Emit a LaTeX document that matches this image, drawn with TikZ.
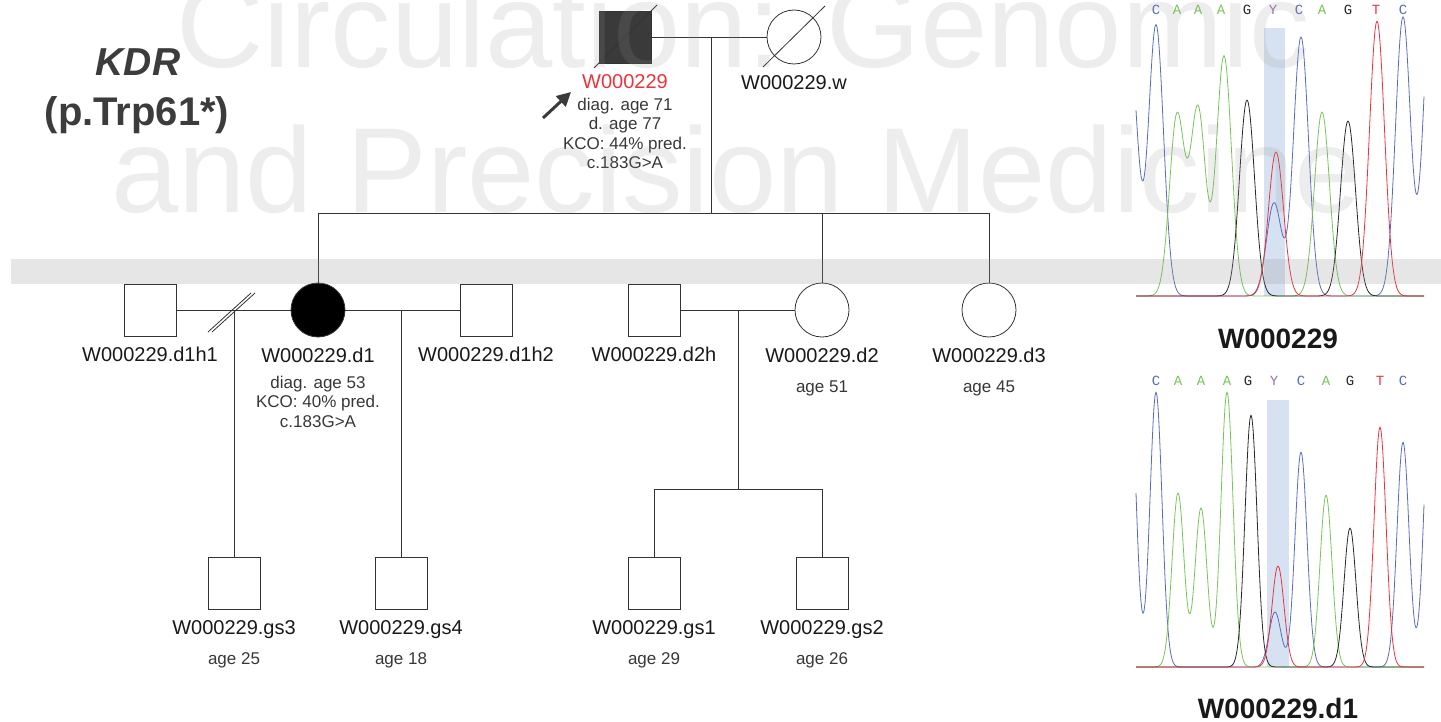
\documentclass[tikz,border=0pt]{standalone}
\usepackage{fontspec}
\setmainfont{Liberation Sans}
\newfontfamily\basefont{Liberation Mono}
\usetikzlibrary{arrows.meta,positioning}
\definecolor{linegray}{RGB}{51,51,51}
\definecolor{affgray}{RGB}{58,58,58}
\definecolor{probred}{RGB}{232,52,60}
\definecolor{headgray}{RGB}{60,60,60}
\definecolor{infogray}{RGB}{55,55,55}
\definecolor{trblue}{RGB}{88,108,190}
\definecolor{trgreen}{RGB}{120,195,90}
\definecolor{trblack}{RGB}{40,40,40}
\definecolor{trred}{RGB}{235,50,60}
\definecolor{trpurple}{RGB}{150,110,180}
\definecolor{hilite}{RGB}{214,226,242}
\definecolor{wmgray}{RGB}{150,150,150}
\tikzset{
  male/.style={draw=linegray, line width=0.8pt, rectangle, minimum size=52pt, inner sep=0pt},
  female/.style={draw=linegray, line width=0.8pt, circle, minimum size=54pt, inner sep=0pt},
  rel/.style={draw=linegray, line width=0.8pt},
  idtext/.style={font=\fontsize{20}{24}\selectfont, inner sep=0pt, text height=14.5pt, text depth=4pt, text=black!90},
  infotext/.style={font=\fontsize{17}{19.5}\selectfont, inner sep=0pt, align=center, text=infogray},
  headtext/.style={font=\bfseries\fontsize{40}{44}\selectfont, inner sep=0pt, text=headgray},
  proband/.style={-{Triangle[length=14pt,width=14pt]}, line width=3pt, draw=affgray},
  peakline/.style={line width=0.8pt, line join=round},
  basecall/.style={font=\basefont\fontsize{14}{14}\selectfont, inner sep=0pt},
  chartlabel/.style={font=\bfseries\fontsize{28}{30}\selectfont, inner sep=0pt, text=black!90},
  wmtext/.style={font=\fontsize{121}{121}\selectfont, inner sep=0pt, text=wmgray, text opacity=0.17},
  declare function={gp(\x,\c,\h,\s)=\h*exp(-0.5*((\x-\c)/\s)*((\x-\c)/\s));},
}

\begin{document}
\begin{tikzpicture}[x=1pt,y=-1pt]
  \useasboundingbox (0,0) rectangle (1441,722);
  % gene and variant
  \node[headtext, font=\bfseries\itshape\fontsize{39}{40}\selectfont, anchor=base] (gene) at (138,76) {KDR};
  \node[headtext, anchor=base] (variant) at (137,126) {(p.Trp61*)};

  % generation I
  \node[male, fill=affgray] (I1) at (625,37) {};
  \node[female] (I2) at (794,37) {};
  \draw[rel] (I1.center) ++(-31,31) -- ++(63,-63);
  \draw[rel] (I2.center) ++(-31,30) -- ++(62,-61);
  \draw[rel] (I1) -- (I2);
  \node[idtext, text=probred, below=10pt of I1] (I1lab) {W000229};
  \node[infotext, below=5.5pt of I1lab] (I1info) {diag. age 71\\d. age 77\\KCO: 44\% pred.\\c.183G>A};
  \node[idtext, below=10pt of I2] (I2lab) {W000229.w};
  \coordinate (arrtail) at (543,118);
  \coordinate (arrtip) at (571,92);
  \draw[proband] (arrtail) -- (arrtip);

  % generation II
  \node[male] (d1h1) at (150,310) {};
  \node[female, fill=black] (d1) at (318,310) {};
  \node[male] (d1h2) at (486,310) {};
  \node[male] (d2h) at (654,310) {};
  \node[female] (d2) at (822,310) {};
  \node[female] (d3) at (989,310) {};
  \coordinate (mI) at (711,37);
  \coordinate (sibI) at (711,213);
  \draw[rel] (mI) -- (sibI);
  \draw[rel] (d1 |- sibI) -- (d3 |- sibI);
  \foreach \n in {d1,d2,d3}
    \draw[rel] (\n |- sibI) -- (\n);
  \draw[rel] (d1h1) -- (d1);
  \draw[rel] (d1) -- (d1h2);
  \draw[rel] (d2h) -- (d2);
  \coordinate (mA) at (234,310);
  \coordinate (mB) at (401,310);
  \coordinate (mC) at (738,310);
  \draw[rel] (mA) ++(-26,22) -- ++(43,-39);
  \draw[rel] (mA) ++(-22,22) -- ++(43,-39);
  \node[idtext, below=10pt of d1h1] (d1h1lab) {W000229.d1h1};
  \node[idtext, below=10pt of d1] (d1lab) {W000229.d1};
  \node[idtext, below=10pt of d1h2] (d1h2lab) {W000229.d1h2};
  \node[idtext, below=10pt of d2h] (d2hlab) {W000229.d2h};
  \node[idtext, below=10pt of d2] (d2lab) {W000229.d2};
  \node[idtext, below=10pt of d3] (d3lab) {W000229.d3};
  \node[infotext, below=9.5pt of d1lab] (d1info) {diag. age 53\\KCO: 40\% pred.\\c.183G>A};
  \node[infotext, below=14.5pt of d2lab] (d2info) {age 51};
  \node[infotext, below=14.5pt of d3lab] (d3info) {age 45};

  % generation III
  \node[male] (gs3) at (234,583) {};
  \node[male] (gs4) at (401,583) {};
  \node[male] (gs1) at (654,583) {};
  \node[male] (gs2) at (822,583) {};
  \draw[rel] (mA) -- (gs3);
  \draw[rel] (mB) -- (gs4);
  \coordinate (sibC) at (738,489);
  \draw[rel] (mC) -- (sibC);
  \draw[rel] (gs1 |- sibC) -- (gs2 |- sibC);
  \draw[rel] (gs1 |- sibC) -- (gs1);
  \draw[rel] (gs2 |- sibC) -- (gs2);
  \node[idtext, below=10pt of gs3] (gs3lab) {W000229.gs3};
  \node[idtext, below=10pt of gs4] (gs4lab) {W000229.gs4};
  \node[idtext, below=10pt of gs1] (gs1lab) {W000229.gs1};
  \node[idtext, below=10pt of gs2] (gs2lab) {W000229.gs2};
  \node[infotext, below=14.5pt of gs3lab] (gs3info) {age 25};
  \node[infotext, below=14.5pt of gs4lab] (gs4info) {age 18};
  \node[infotext, below=14.5pt of gs1lab] (gs1info) {age 29};
  \node[infotext, below=14.5pt of gs2lab] (gs2info) {age 26};

  % chromatograms
  \foreach \b/\c/\xa/\xb [count=\i] in {C/trblue/1156/1156, A/trgreen/1177/1178, A/trgreen/1198/1201,
      A/trgreen/1221/1227, G/trblack/1247/1248, Y/trpurple/1273/1274, C/trblue/1299/1301,
      A/trgreen/1322/1326, G/trblack/1348/1350, T/trred/1376/1380, C/trblue/1403/1403} {
    \node[basecall, text=\c] (bA\i) at (\xa,10) {\b};
    \node[basecall, text=\c] (bB\i) at (\xb,381) {\b};
  }
  \fill[hilite] (1264,28) rectangle (1285,296);
  \draw[peakline, trblue] plot[domain=1136:1424, samples=289]
    (\x, {296-gp(\x,1130,245,7.5)-gp(\x,1156,271,7.5)-gp(\x,1274,93,7.5)-gp(\x,1301,259,7.5)-gp(\x,1403,279,7.5)-gp(\x,1431,300,7.5)});
  \draw[peakline, trgreen] plot[domain=1136:1424, samples=289]
    (\x, {296-gp(\x,1177,180,7.5)-gp(\x,1198,187,7.5)-gp(\x,1224,240,7.5)-gp(\x,1322,184,7.5)});
  \draw[peakline, trblack] plot[domain=1136:1424, samples=289]
    (\x, {296-gp(\x,1247,196,7.5)-gp(\x,1348,175,7.5)});
  \draw[peakline, trred] plot[domain=1136:1424, samples=289]
    (\x, {296-gp(\x,1276,144,7.5)-gp(\x,1377,275,7.5)});
  \node[chartlabel, anchor=base] (chartA) at (1278,348) {W000229};

  \fill[hilite] (1267,400) rectangle (1289,667);
  \draw[peakline, trblue] plot[domain=1136:1424, samples=289]
    (\x, {667-gp(\x,1130,285,6)-gp(\x,1156,275,6)-gp(\x,1275,55,6)-gp(\x,1301,215,6)-gp(\x,1403,225,6)-gp(\x,1430,267,6)});
  \draw[peakline, trgreen] plot[domain=1136:1424, samples=289]
    (\x, {667-gp(\x,1178,174,6)-gp(\x,1201,159,6)-gp(\x,1227,275,6)-gp(\x,1326,172,6)});
  \draw[peakline, trblack] plot[domain=1136:1424, samples=289]
    (\x, {667-gp(\x,1251,252,6)-gp(\x,1350,139,6)});
  \draw[peakline, trred] plot[domain=1136:1424, samples=289]
    (\x, {667-gp(\x,1278,101,6)-gp(\x,1380,240,6)});
  \node[chartlabel, anchor=base] (chartB) at (1278,718) {W000229.d1};

  % watermark
  \fill[wmgray, fill opacity=0.24] (11,259) rectangle (1441,284);
  \node[wmtext, anchor=base west] (wm1) at (176,68) {Circulation: Genomic};
  \node[wmtext, anchor=base west] (wm2) at (111,213) {and Precision Medicine};
\end{tikzpicture}
\end{document}
